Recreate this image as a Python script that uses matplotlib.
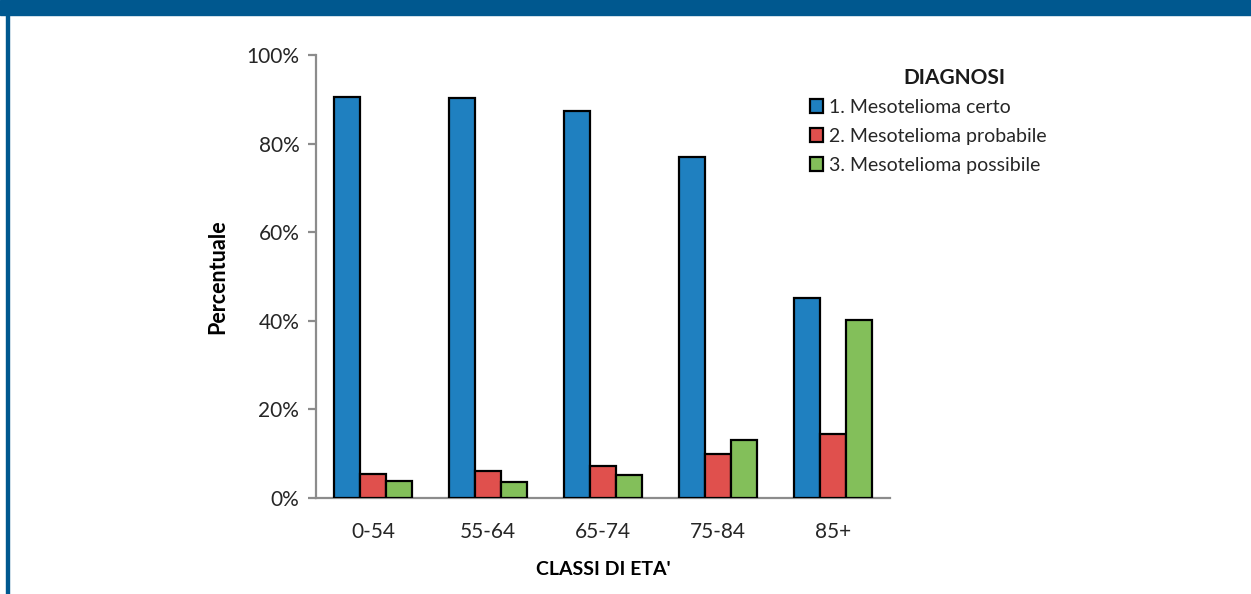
import numpy as np
import matplotlib.pyplot as plt
from matplotlib.patches import Rectangle, Patch

# age classes and share of each diagnosis (%)
classes = ['0-54', '55-64', '65-74', '75-84', '85+']
certo = [90.6, 90.3, 87.4, 77.0, 45.1]
probabile = [5.4, 6.2, 7.2, 9.9, 14.5]
possibile = [3.8, 3.6, 5.1, 13.2, 40.1]

series_labels = ['1. Mesotelioma certo', '2. Mesotelioma probabile', '3. Mesotelioma possibile']
colors = ['#1f80c0', '#e0504d', '#83bf5a']

plt.rcParams['font.family'] = ['Lato', 'DejaVu Sans']

fig = plt.figure(figsize=(12.51, 5.94), dpi=100)
W, H = 1251, 594

# blue frame: header band + left border
fig.patches.append(Rectangle((0, 1 - 15 / H), 1, 15 / H, transform=fig.transFigure,
                             color='#00588f', zorder=0))
fig.patches.append(Rectangle((6 / W, 0), 2.5 / W, 1, transform=fig.transFigure,
                             color='#00588f', zorder=0))

ax = fig.add_axes([316 / W, 96 / H, (890 - 316) / W, (539 - 96) / H])

x = np.arange(len(classes))
bw = 0.226
for i, vals in enumerate([certo, probabile, possibile]):
    ax.bar(x + (i - 1) * bw, vals, width=bw, color=colors[i], edgecolor='black',
           linewidth=1.6, label=series_labels[i], zorder=3)

ax.set_xlim(-0.5, len(classes) - 0.5)
ax.set_ylim(0, 100)
ax.set_yticks(range(0, 101, 20))
ax.set_yticklabels([f'{v}%' for v in range(0, 101, 20)])
ax.set_xticks(x)
ax.set_xticklabels(classes)

for s in ['top', 'right']:
    ax.spines[s].set_visible(False)
for s in ['left', 'bottom']:
    ax.spines[s].set_color('#8c8c8c')
    ax.spines[s].set_linewidth(1.6)
ax.tick_params(axis='y', direction='out', length=6, width=1.6, color='#8c8c8c',
               labelsize=15, labelcolor='#262626', pad=6)
ax.tick_params(axis='x', length=0, labelsize=15, labelcolor='#262626', pad=17)

ax.set_ylabel('Percentuale', fontsize=15.5, fontweight='bold', labelpad=13)
ax.set_xlabel("CLASSI DI ETA'", fontsize=14, fontweight='bold', labelpad=14)

# legend title sits right of the entries' centre, as in the original
fig.text(954 / W, 1 - 78 / H, 'DIAGNOSI', ha='center', va='center',
         fontsize=15, fontweight='bold', color='#1a1a1a')
handles = [Patch(facecolor=c, edgecolor='black', linewidth=1.6) for c in colors]
leg = fig.legend(handles, series_labels, loc='upper left',
                 bbox_to_anchor=(800 / W, 1 - 89 / H), frameon=False, fontsize=14,
                 handlelength=0.7, handleheight=0.7, handletextpad=0.3,
                 labelspacing=0.62, borderpad=0)
for t in leg.get_texts():
    t.set_color('#262626')

fig.savefig('out.png', dpi=100)
